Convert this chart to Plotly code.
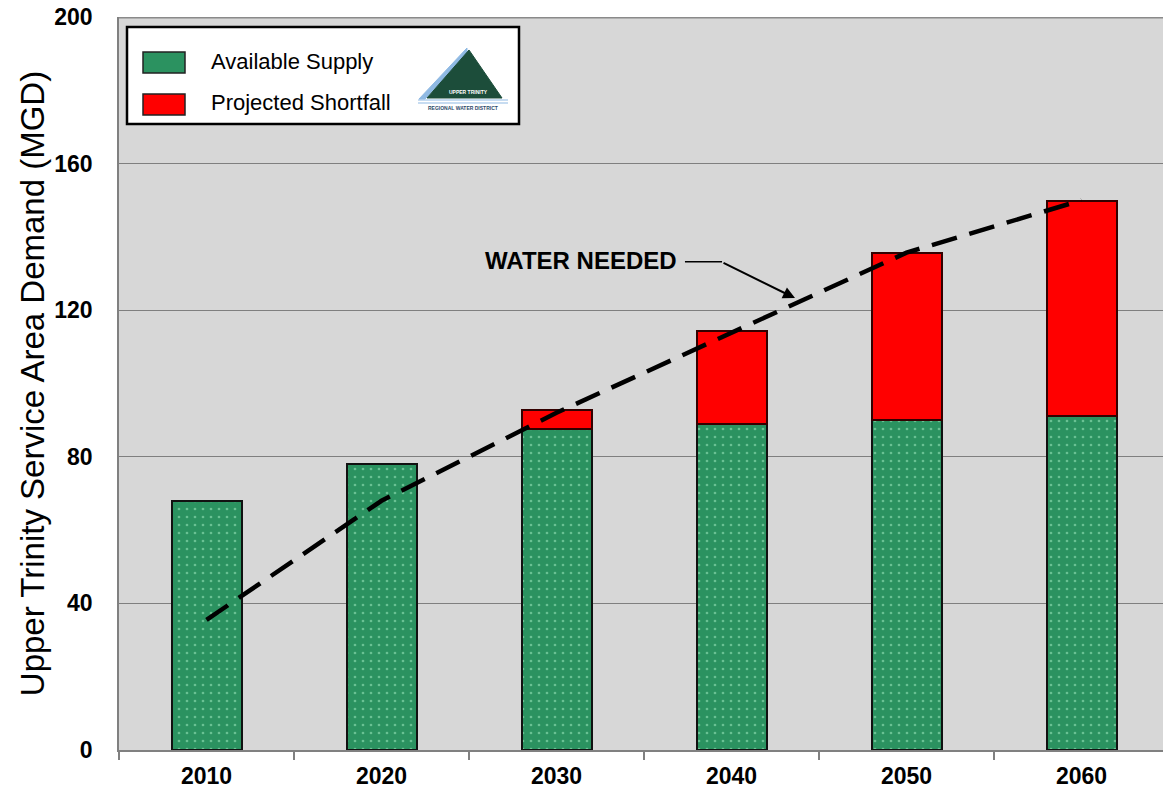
import plotly.graph_objects as go

# ---- data ----
years = ["2010", "2020", "2030", "2040", "2050", "2060"]
available_supply = [68, 78, 87.5, 89, 90, 91]
projected_shortfall = [None, None, 5.3, 25.3, 45.6, 58.8]
water_needed = [35.5, 68, 92, 114, 135.7, 150]
y_ticks = [0, 40, 80, 120, 160, 200]

W, H = 1163, 793
L, R, T, B = 119, 0, 17, 43
PW = W - L - R
PH = H - T - B

def px(x):
    return (x - L) / PW

def py(y):
    return (H - B - y) / PH

GREEN = "#2b9260"
RED = "#ff0000"
FONT = "Liberation Sans, Arial"

fig = go.Figure()
fig.add_trace(go.Bar(
    x=years, y=available_supply, name="Available Supply", width=0.4,
    marker=dict(color=GREEN, line=dict(color="#111111", width=2),
                pattern=dict(shape=".", fgcolor="#a8f0c6", bgcolor=GREEN,
                             size=8, solidity=0.09)),
    showlegend=False,
))
fig.add_trace(go.Bar(
    x=years, y=projected_shortfall, name="Projected Shortfall", width=0.4,
    marker=dict(color=RED, line=dict(color="#330000", width=2)),
    showlegend=False,
))
fig.add_trace(go.Scatter(
    x=years, y=water_needed, mode="lines", name="Water Needed",
    line=dict(color="black", width=4.5, dash="26px,13px"),
    showlegend=False,
))

shapes = []
shapes.append(dict(type="line", xref="paper", yref="y", x0=0, x1=1, y0=200, y1=200,
                   line=dict(color="#8a8a8a", width=3)))
# legend box
shapes.append(dict(type="rect", xref="paper", yref="paper",
                   x0=px(127), x1=px(519), y0=py(124), y1=py(27),
                   fillcolor="white", line=dict(color="black", width=2.5)))
shapes.append(dict(type="rect", xref="paper", yref="paper",
                   x0=px(143), x1=px(185), y0=py(73), y1=py(52),
                   fillcolor=GREEN, line=dict(color="#222222", width=1.5)))
shapes.append(dict(type="rect", xref="paper", yref="paper",
                   x0=px(143), x1=px(185), y0=py(115), y1=py(94),
                   fillcolor=RED, line=dict(color="#222222", width=1.5)))
# simple logo
def P(x, y):
    return f"{px(x):.5f},{py(y):.5f}"
shapes.append(dict(type="path", xref="paper", yref="paper",
                   path=f"M{P(467,48)} L{P(419,99)} L{P(425,99)} L{P(467,54)} Z",
                   fillcolor="#8fb9e3", line=dict(color="#8fb9e3", width=1)))
shapes.append(dict(type="path", xref="paper", yref="paper",
                   path=f"M{P(469,50)} L{P(427,98)} L{P(502,98)} Z",
                   fillcolor="#1c4d3a", line=dict(color="#1c4d3a", width=1)))
for yy in (100, 103):
    shapes.append(dict(type="line", xref="paper", yref="paper",
                       x0=px(418), x1=px(508), y0=py(yy), y1=py(yy),
                       line=dict(color="#8fb9e3", width=1)))
# annotation leader
shapes.append(dict(type="line", xref="x", yref="y", x0=2.734, x1=2.946,
                   y0=133.2, y1=133.2, line=dict(color="black", width=1.5)))

annotations = [
    dict(xref="paper", yref="paper", x=px(209), y=py(61.5), text="Available Supply",
         showarrow=False, xanchor="left", yanchor="middle",
         font=dict(family=FONT, size=22, color="black")),
    dict(xref="paper", yref="paper", x=px(209), y=py(102), text="Projected Shortfall",
         showarrow=False, xanchor="left", yanchor="middle",
         font=dict(family=FONT, size=22, color="black")),
    dict(xref="paper", yref="paper", x=px(468), y=py(92), text="<b>UPPER TRINITY</b>",
         showarrow=False, xanchor="center", yanchor="middle",
         font=dict(family=FONT, size=5, color="white")),
    dict(xref="paper", yref="paper", x=px(463), y=py(108), text="<b>REGIONAL WATER DISTRICT</b>",
         showarrow=False, xanchor="center", yanchor="middle",
         font=dict(family=FONT, size=5, color="#2a4a6a")),
    dict(xref="x", yref="y", x=2.14, y=133.5, text="<b>WATER NEEDED</b>",
         showarrow=False, xanchor="center", yanchor="middle",
         font=dict(family=FONT, size=24, color="black")),
    dict(xref="x", yref="y", x=3.363, y=123.3, ax=-73, ay=-36, text="",
         showarrow=True, arrowhead=2, arrowsize=1.2, arrowwidth=2, arrowcolor="black",
         axref="pixel", ayref="pixel"),
]

fig.update_layout(
    width=W, height=H,
    margin=dict(l=L, r=R, t=T, b=B),
    barmode="stack",
    paper_bgcolor="white",
    plot_bgcolor="#d7d7d7",
    shapes=shapes,
    annotations=annotations,
    font=dict(family=FONT, color="black"),
)
fig.update_xaxes(
    type="category", range=[-0.5, -0.5 + PW / 175.0],
    tickson="boundaries", ticks="outside", ticklen=8, tickcolor="#808080", tickwidth=1.5,
    showline=True, linecolor="#808080", linewidth=1.5,
    showgrid=False, ticklabelstandoff=5,
    tickfont=dict(family=FONT, size=23, color="black", weight="bold"),
)
fig.update_yaxes(
    range=[0, 200], tickvals=y_ticks, ticktext=[str(v) for v in y_ticks],
    showgrid=True, gridcolor="#7f7f7f", gridwidth=1,
    showline=True, linecolor="#808080", linewidth=1.5,
    ticks="", ticklabelstandoff=20,
    zeroline=False,
    tickfont=dict(family=FONT, size=23, color="black", weight="bold"),
    title=dict(text="Upper Trinity Service Area Demand (MGD)", standoff=0,
               font=dict(family=FONT, size=33, color="black")),
)

fig.write_html("out.html", config={"displayModeBar": False},
               post_script="document.body.style.margin='0';document.body.style.overflow='hidden';")
